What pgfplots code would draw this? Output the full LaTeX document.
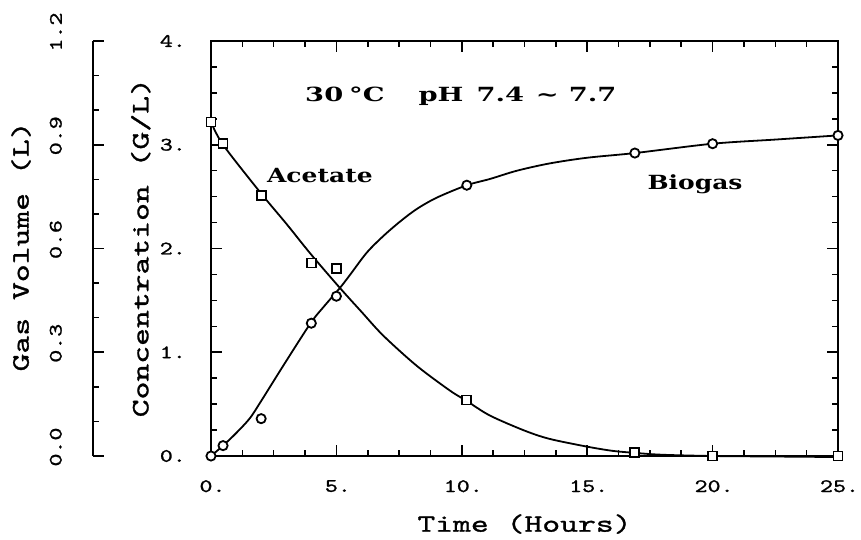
\documentclass[border=0pt]{standalone}
\usepackage{pgfplots}
\pgfplotsset{compat=1.18}
\usepackage{fontspec}
\newfontfamily\plotfont{lmmono10-regular.otf}[FakeStretch=1.36, FakeBold=1.2]
\newfontfamily\tickplotfont{lmmono10-regular.otf}[FakeStretch=1.3, FakeBold=1.2]
\newfontfamily\annfont{DejaVu Serif}[FakeStretch=1.28]
\newfontfamily\annwidefont{DejaVu Serif}[FakeStretch=1.4]
\newcommand\labfont{\plotfont\fontsize{25}{28}\selectfont}
\newcommand\tickfont{\tickplotfont\fontsize{19}{20}\selectfont}
\newcommand\annsize{\annfont\bfseries\fontsize{19.5}{21}\selectfont}
\newcommand\annwide{\annwidefont\bfseries\fontsize{19.5}{21}\selectfont}
\begin{document}
\begin{tikzpicture}
\useasboundingbox (-211pt,-83pt) rectangle (650pt,456pt);
% secondary (gas volume) axis
\begin{axis}[at={(-118pt,0pt)}, anchor=south west,
 scale only axis, width=10pt, height=415pt,
 xmin=0, xmax=1, ymin=0, ymax=1.2,
 axis x line=none, axis y line*=left, xtick=\empty,
 ytick={0,0.3,0.6,0.9,1.2},
 yticklabels={\hspace*{18pt}0.0,\hspace*{18pt}0.3,\hspace*{18pt}0.6,\hspace*{18pt}0.9,\hspace*{18pt}1.2},
 minor ytick={0.1,0.2,0.4,0.5,0.7,0.8,1.0,1.1},
 tick align=inside, major tick length=11pt, minor tick length=6pt,
 axis line style={line width=2.2pt}, every tick/.style={black, line width=1.6pt},
 yticklabel style={font=\tickfont, rotate=90, anchor=south, inner sep=0pt},
 yticklabel shift=31pt,
]
\end{axis}
% main axis
\begin{axis}[at={(0pt,0pt)}, anchor=south west,
 scale only axis, width=627pt, height=415pt,
 xmin=0, xmax=25, ymin=0, ymax=4, clip=false,
 xtick={0,5,10,15,20,25},
 xticklabels={0.,5.,10.,15.,20.,25.},
 minor x tick num=3,
 ytick={0,1,2,3,4}, yticklabels={0.,1.,2.,3.,4.}, minor y tick num=3,
 tick align=inside, major tick length=11pt, minor tick length=6pt,
 axis line style={line width=2.5pt}, every tick/.style={black, line width=1.6pt},
 xticklabel style={font=\tickfont, anchor=north, inner sep=0pt, xshift=1.5pt}, xticklabel shift=24pt,
 yticklabel style={font=\tickfont, anchor=east, inner sep=0pt}, yticklabel shift=25pt,
 xlabel={Time (Hours)}, ylabel={Concentration (G/L)},
 xlabel style={font=\labfont, at={(axis description cs:0.5,-0.164)}, anchor=center},
 ylabel style={font=\labfont, at={(axis description cs:-0.112,0.502)}, anchor=center},
]
% acetate fitted curve
\addplot[black, line width=1.8pt, smooth, tension=0.5] coordinates {
(0,3.22) (0.48,3.0) (2,2.53) (3,2.24) (4,1.94) (5.14,1.62)
(6,1.39) (6.87,1.16) (8.2,0.87) (9.53,0.63) (10.2,0.53) (11.12,0.39) (12.5,0.245)
(13.5,0.165) (15,0.09) (16,0.05) (16.9,0.03) (18,0.012) (20,0.0) (22.5,-0.005) (25,-0.01)};
% biogas fitted curve
\addplot[black, line width=1.8pt, smooth, tension=0.5] coordinates {
(0,0) (0.48,0.1) (1,0.22) (1.55,0.364) (2,0.53) (2.88,0.87) (3.97,1.28) (4.5,1.44)
(5.14,1.62) (5.54,1.745) (6.21,1.96) (6.87,2.12) (7.54,2.26) (8.2,2.38) (9.0,2.49)
(10.2,2.61) (11.12,2.67) (12.2,2.75) (13.5,2.82) (15,2.875) (16.9,2.92) (20,3.01) (22.5,3.05) (25,3.09)};
% acetate data
\addplot[black, only marks, mark=square*, mark size=4.5pt,
 mark options={fill=white, draw=black, line width=1.8pt}] coordinates {
(0,3.22) (0.48,3.01) (2.0,2.51) (4.0,1.86) (5.0,1.81) (10.2,0.54) (16.9,0.03) (20.0,0.0) (25.0,0.0)};
% biogas data
\addplot[black, only marks, mark=*, mark size=4.6pt,
 mark options={fill=white, draw=black, line width=1.8pt}] coordinates {
(0,0) (0.48,0.10) (2.0,0.36) (4.0,1.28) (5.0,1.54) (10.2,2.61) (16.9,2.92) (20.0,3.01) (25,3.09)};
\node[font=\annwide, anchor=base west, inner sep=0pt]
 at (axis cs:3.75,3.42) {30\hspace{6pt}°C\hspace{34pt}pH\hspace{13pt}7.4\hspace{12pt}\textasciitilde\hspace{10pt}7.7};
\node[font=\annsize, anchor=base west, inner sep=0pt]
 at (axis cs:2.23,2.64) {Acetate};
\node[font=\annsize, anchor=base west, inner sep=0pt]
 at (axis cs:17.4,2.57) {Biogas};
\node[font=\labfont, rotate=90, anchor=center] at (axis description cs:-0.303,0.505) {Gas Volume (L)};
\end{axis}
\end{tikzpicture}
\end{document}
